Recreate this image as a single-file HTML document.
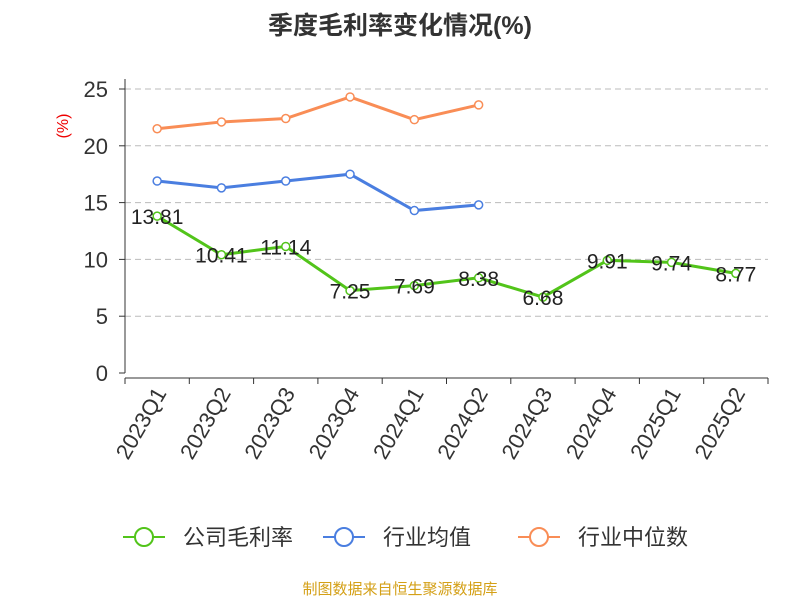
<!DOCTYPE html>
<html><head><meta charset="utf-8"><style>
body{margin:0;background:#fff;font-family:"Liberation Sans","Noto Sans CJK SC",sans-serif}
</style></head><body>
<svg id="c" width="800" height="600" xmlns="http://www.w3.org/2000/svg" style="font-family:'Liberation Sans','Noto Sans CJK SC',sans-serif">
<text x="400" y="34" text-anchor="middle" font-size="25" font-weight="bold" fill="#333">季度毛利率变化情况(%)</text>
<text x="68" y="126" text-anchor="middle" font-size="16" fill="#e00" transform="rotate(-90 68 126)">(%)</text>
<text x="400" y="594" text-anchor="middle" font-size="15" fill="#d4a017">制图数据来自恒生聚源数据库</text>
<g id="grid"></g><g id="axes"></g><g id="series"></g><g id="legend"></g>
</svg>
<script>
const categories=["2023Q1","2023Q2","2023Q3","2023Q4","2024Q1","2024Q2","2024Q3","2024Q4","2025Q1","2025Q2"];
const companyValues=[13.81,10.41,11.14,7.25,7.69,8.38,6.68,9.91,9.74,8.77];
const industryAvg=[16.9,16.3,16.9,17.5,14.3,14.8];
const industryMedian=[21.5,22.1,22.4,24.3,22.3,23.6];
const yTicks=[0,5,10,15,20,25];
const NS="http://www.w3.org/2000/svg";
const L=125,R=768,T=89,B=373,band=(R-L)/categories.length;
const x=i=>L+band*(i+0.5);
const y=v=>B-(v/25)*(B-T);
function mk(tag,attrs,parent){const e=document.createElementNS(NS,tag);for(const k in attrs)e.setAttribute(k,attrs[k]);parent.appendChild(e);return e;}
const grid=document.getElementById('grid'),axes=document.getElementById('axes'),series=document.getElementById('series'),legend=document.getElementById('legend');
yTicks.forEach(t=>{
 if(t>0){const g=mk('line',{x1:L,x2:R,y1:y(t),y2:y(t),stroke:'#bbb','stroke-dasharray':'6,4'},grid);
 
 }
 const tk=mk('line',{x1:L-6,x2:L,y1:y(t),y2:y(t),stroke:'#333'},axes);
 
 
 const lb=mk('text',{x:L-17,y:y(t)+8,'text-anchor':'end','font-size':22,fill:'#333'},axes);lb.textContent=t;
 
 
});
const ya=mk('line',{x1:L,x2:L,y1:T-10,y2:B,stroke:'#333'},axes);


const xa=mk('line',{x1:L,x2:R,y1:B+5,y2:B+5,stroke:'#333'},axes);


for(let i=0;i<=categories.length;i++){const tk=mk('line',{x1:L+band*i,x2:L+band*i,y1:B+5,y2:B+11,stroke:'#333'},axes);
 
 }
categories.forEach((c,i)=>{const t=mk('text',{x:x(i)+10,y:B+20,'text-anchor':'end','font-size':22,fill:'#333',transform:`rotate(-60 ${x(i)+10} ${B+20})`},axes);t.textContent=c;
 
 });
function line(vals,color,name,labels){
 const p=mk('polyline',{points:vals.map((v,i)=>x(i)+','+y(v)).join(' '),fill:'none',stroke:color,'stroke-width':3},series);
 
 
 vals.forEach((v,i)=>{const c=mk('circle',{cx:x(i),cy:y(v),r:4,fill:'#fff',stroke:color,'stroke-width':1.5},series);
  
  
  if(labels){const t=mk('text',{x:x(i),y:y(v)+8,'text-anchor':'middle','font-size':21,fill:'#222'},series);t.textContent=v.toFixed(2);
  
  }});
}
line(industryMedian,'#f98d56','industry-median',false);
line(industryAvg,'#4a7ee0','industry-average',false);
line(companyValues,'#52c41a','company-margin',true);
[['公司毛利率','#52c41a',123],['行业均值','#4a7ee0',323],['行业中位数','#f98d56',518]].forEach(([n,c,lx])=>{
 const g=mk('g',{},legend);
 
 
 mk('line',{x1:lx,x2:lx+42,y1:537,y2:537,stroke:c,'stroke-width':2},g);
 mk('circle',{cx:lx+21,cy:537,r:9,fill:'#fff',stroke:c,'stroke-width':2},g);
 const t=mk('text',{x:lx+60,y:545,'font-size':22,fill:'#333'},g);t.textContent=n;
});
</script>
</body></html>
